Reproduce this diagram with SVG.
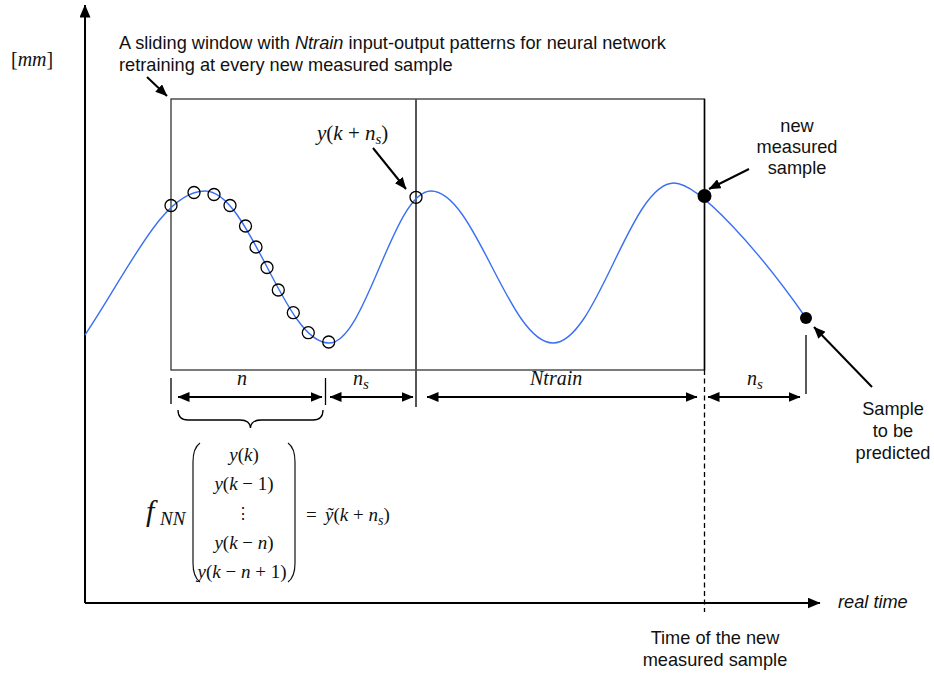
<svg xmlns="http://www.w3.org/2000/svg" width="934" height="673" viewBox="0 0 934 673">
<style>
.ax{stroke:#000;stroke-width:2;fill:none}
.arr{stroke:#000;stroke-width:2;fill:none;marker-start:url(#ah);marker-end:url(#ah)}
.one{stroke:#000;stroke-width:2;fill:none;marker-end:url(#ah)}
.tick{stroke:#000;stroke-width:1.3;fill:none}
.sans{font-family:"Liberation Sans",Arial,sans-serif;font-size:18.2px;fill:#111}
.serif{font-family:"Liberation Serif","Times New Roman",serif;fill:#111}
.it{font-style:italic}
.smp{fill:none;stroke:#000;stroke-width:1.3}
.curve{fill:none;stroke:#3a70f2;stroke-width:1.4}
</style>
<defs>
<marker id="ah" viewBox="0 0 12 10" refX="11.5" refY="5" markerWidth="12" markerHeight="10" markerUnits="userSpaceOnUse" orient="auto-start-reverse"><path d="M0,0 L12,5 L0,10 z" fill="#000"/></marker>
<marker id="axh" viewBox="0 0 13 11" refX="12.5" refY="5.5" markerWidth="13" markerHeight="11" markerUnits="userSpaceOnUse" orient="auto"><path d="M0,0 L13,5.5 L0,11 z" fill="#000"/></marker>
</defs>

<g id="axes">
<line class="ax" x1="85" y1="603" x2="85" y2="5" marker-end="url(#axh)"/>
<line class="ax" x1="85" y1="603" x2="820" y2="603" marker-end="url(#axh)"/>
<text class="serif" x="11" y="66" font-size="20">[<tspan class="it">mm</tspan>]</text>
<text class="sans it" x="838" y="608">real time</text>
</g>

<g id="window">
<rect x="171" y="99" width="533.5" height="271" fill="none" stroke="#333" stroke-width="1.3"/>
<line x1="416" y1="99" x2="416" y2="407" stroke="#555" stroke-width="2"/>
<line x1="704.5" y1="99" x2="704.5" y2="370" stroke="#000" stroke-width="1.5"/>
<line x1="704.5" y1="370" x2="704.5" y2="612" stroke="#000" stroke-width="1.3" stroke-dasharray="5,3.5"/>
<text class="sans" x="119" y="49">A sliding window with <tspan class="it">Ntrain</tspan> input-output patterns for neural network</text>
<text class="sans" x="119" y="71">retraining at every new measured sample</text>
</g>

<g id="signal">
<path class="curve" d="M85,335 C130,268 163,191 205,191 C250,191 284,343 329,343 C366,343 393,191 431,191 C475,191 509,343 553,343 C597,343 630,183 674,183 C699,183 760,252 806,318"/>
</g>

<g id="samples">
<circle class="smp" cx="171" cy="205.5" r="6"/>
<circle class="smp" cx="194" cy="192.5" r="6"/>
<circle class="smp" cx="214" cy="194.5" r="6"/>
<circle class="smp" cx="230" cy="205.5" r="6"/>
<circle class="smp" cx="245.5" cy="226" r="6"/>
<circle class="smp" cx="256" cy="247" r="6"/>
<circle class="smp" cx="267" cy="267.5" r="6"/>
<circle class="smp" cx="278.3" cy="290" r="6"/>
<circle class="smp" cx="293.3" cy="312.7" r="6"/>
<circle class="smp" cx="308.3" cy="332.7" r="6"/>
<circle class="smp" cx="328.7" cy="342" r="6"/>
<circle class="smp" cx="416" cy="197.3" r="6"/>
<circle cx="704.5" cy="196" r="7" fill="#000"/>
<circle cx="806" cy="318" r="6" fill="#000"/>
</g>

<g id="labels">
<text class="serif" x="317" y="140" font-size="21"><tspan class="it">y</tspan>(<tspan class="it">k</tspan> + <tspan class="it">n</tspan><tspan class="it" font-size="15" dy="4">s</tspan><tspan dy="-4">)</tspan></text>
<text class="sans" text-anchor="middle"><tspan x="797" y="132">new</tspan><tspan x="797" y="153">measured</tspan><tspan x="797" y="174">sample</tspan></text>
<text class="sans" text-anchor="middle"><tspan x="893" y="415">Sample</tspan><tspan x="893" y="437">to be</tspan><tspan x="893" y="459">predicted</tspan></text>
<text class="sans" text-anchor="middle"><tspan x="715" y="644">Time of the new</tspan><tspan x="715" y="666">measured sample</tspan></text>
</g>

<g id="connectors">
<line class="one" x1="147" y1="77" x2="167" y2="96"/>
<line class="one" x1="373" y1="148" x2="406" y2="189"/>
<line class="one" x1="749" y1="169" x2="709" y2="189"/>
<line class="one" x1="872" y1="387" x2="814" y2="327"/>
</g>

<g id="spans">
<line class="tick" x1="171" y1="378" x2="171" y2="404"/>
<line class="tick" x1="325.5" y1="378" x2="325.5" y2="405"/>
<line class="tick" x1="806" y1="335" x2="806" y2="394"/>
<line class="arr" x1="178" y1="397" x2="322" y2="397"/>
<line class="arr" x1="330" y1="397" x2="413" y2="397"/>
<line class="arr" x1="427" y1="397" x2="697" y2="397"/>
<line class="arr" x1="708" y1="397" x2="800" y2="397"/>
<text class="serif it" x="242" y="385" font-size="20" text-anchor="middle">n</text>
<text class="serif it" x="353" y="385" font-size="20">n<tspan font-size="15" dy="4">s</tspan></text>
<text class="serif it" x="530" y="385" font-size="20">Ntrain</text>
<text class="serif it" x="747" y="385" font-size="20">n<tspan font-size="15" dy="4">s</tspan></text>
<path d="M178,410 Q178,420 188,420 L240,420 Q250,420 250.5,428 Q251,420 261,420 L313,420 Q323,420 323,410" fill="none" stroke="#000" stroke-width="1.3"/>
</g>

<g id="formula">
<text class="serif it" x="146" y="521" font-size="30">f</text>
<text class="serif it" x="160" y="525" font-size="19">NN</text>
<path d="M200,443 Q193,448 193,462 L193,563 Q193,577 200,582" fill="none" stroke="#111" stroke-width="1.2"/>
<path d="M288,443 Q295,448 295,462 L295,563 Q295,577 288,582" fill="none" stroke="#111" stroke-width="1.2"/>
<g class="serif" font-size="19" text-anchor="middle">
<text x="244" y="461"><tspan class="it">y</tspan>(<tspan class="it">k</tspan>)</text>
<text x="244" y="490"><tspan class="it">y</tspan>(<tspan class="it">k</tspan> − 1)</text>
<text x="244" y="549"><tspan class="it">y</tspan>(<tspan class="it">k</tspan> − <tspan class="it">n</tspan>)</text>
<text x="242" y="578"><tspan class="it">y</tspan>(<tspan class="it">k</tspan> − <tspan class="it">n</tspan> + 1)</text>
</g>
<text font-family="DejaVu Serif,serif" font-size="16" x="243" y="519" text-anchor="middle" fill="#111">⋮</text>
<text class="serif" font-size="19" x="306" y="521">=</text>
<text class="serif" font-size="19" x="325" y="521"><tspan class="it">ỹ</tspan>(<tspan class="it">k</tspan> + <tspan class="it">n</tspan><tspan class="it" font-size="14" dy="4">s</tspan><tspan dy="-4">)</tspan></text>
</g>
</svg>
